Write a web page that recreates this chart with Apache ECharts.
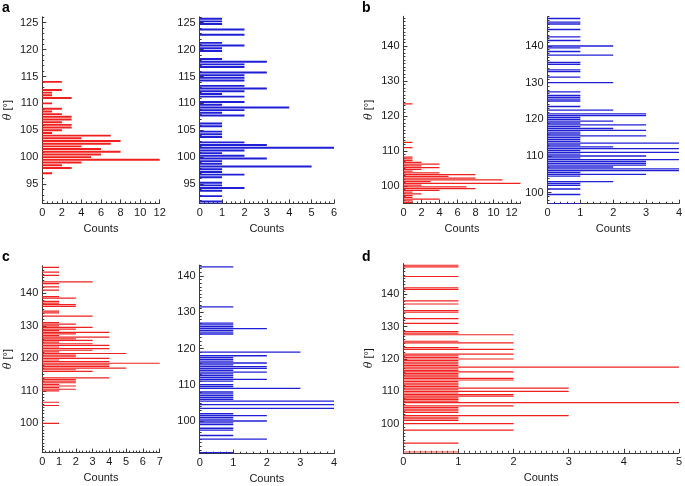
<!DOCTYPE html>
<html>
<head>
<meta charset="utf-8">
<script src="https://cdn.jsdelivr.net/npm/echarts@6/dist/echarts.min.js"></script>
<style>
  html, body { margin: 0; padding: 0; background: #fff; }
  #main { width: 685px; height: 486px; }
</style>
</head>
<body>
<div id="main"></div>
<script>
/* histogram bins: theta centre (deg) and counts */
var aRedTheta = [114.0, 112.5, 112.0, 111.5, 111.0, 110.0, 109.0, 108.5, 108.0, 107.5, 107.0, 106.5, 106.0, 105.5, 105.0,
  104.5, 104.0, 103.5, 103.0, 102.5, 102.0, 101.5, 101.0, 100.5, 100.0, 99.5, 99.0, 98.5, 98.0, 97.0];
var aRedCounts = [2, 2, 1, 1, 3, 1, 2, 1, 2, 3, 3, 2, 3, 3, 2,
  1, 7, 4, 8, 7, 4, 6, 8, 6, 5, 12, 4, 2, 3, 1];

var aBlueTheta = [125.75, 125.25, 124.75, 123.75, 122.75, 121.25, 120.75, 120.25, 119.75, 118.25, 117.75, 117.25, 116.75,
  115.75, 115.25, 114.75, 114.25, 113.25, 112.75, 112.25, 111.75, 111.25, 110.25, 109.75, 109.25, 108.75, 108.25,
  107.75, 106.25, 105.75, 104.75, 104.25, 103.75, 102.75, 102.25, 101.75, 101.25, 100.75, 100.25, 99.75, 99.25,
  98.75, 98.25, 97.75, 97.25, 96.75, 96.25, 95.25, 94.75, 94.25, 93.75, 92.75, 91.75, 91.25];
var aBlueCounts = [1, 1, 1, 2, 2, 1, 2, 1, 1, 1, 3, 2, 2,
  3, 2, 2, 2, 2, 3, 2, 1, 2, 2, 1, 4, 2, 1,
  2, 1, 1, 1, 1, 1, 2, 3, 6, 2, 1, 2, 3, 1,
  1, 5, 1, 1, 2, 1, 1, 1, 2, 1, 1, 1, 1];

var bRedTheta = [123.5, 112.5, 111.0, 108.25, 107.75, 107.25, 106.75, 106.25, 105.75, 105.25, 104.75, 104.25, 103.75,
  103.25, 102.75, 102.25, 101.75, 101.25, 100.75, 100.25, 99.75, 99.25, 98.75, 98.25, 97.75, 97.25, 96.75, 96.25,
  95.75, 95.25];
var bRedCounts = [1, 1, 1, 1, 1, 1, 2, 4, 2, 4, 2, 1, 4,
  8, 5, 8, 11, 3, 13, 2, 7, 8, 4, 1, 2, 1, 1, 4,
  1, 1];

var bBlueTheta = [147.5, 146.5, 146.0, 144.5, 142.5, 141.5, 140.0, 139.5, 138.5, 137.5, 135.5, 135.0, 133.5, 133.0,
  131.5, 130.0, 127.5, 126.5, 126.0, 125.5, 125.0, 123.5, 122.5, 121.5, 121.0, 120.5, 120.0, 119.5, 119.0, 118.5,
  118.0, 117.5, 117.0, 116.5, 116.0, 115.5, 115.0, 114.5, 114.0, 113.5, 113.0, 112.5, 112.0, 111.5, 111.0, 110.5,
  110.0, 109.5, 109.0, 108.5, 108.0, 107.5, 107.0, 106.5, 106.0, 105.5, 105.0, 104.5, 103.0, 102.5, 102.0, 101.0,
  99.5, 97.0];
var bBlueCounts = [1, 1, 1, 1, 1, 1, 2, 1, 1, 2, 1, 1, 1, 1,
  1, 2, 1, 1, 1, 1, 1, 1, 2, 3, 3, 1, 1, 2, 1, 3,
  1, 2, 3, 1, 1, 3, 1, 1, 1, 4, 1, 2, 4, 1, 4, 1,
  3, 1, 4, 3, 3, 3, 2, 4, 4, 1, 3, 1, 2, 1, 1, 1,
  1, 1];

var cRedTheta = [148.0, 146.5, 145.5, 143.5, 143.0, 142.0, 141.0, 139.0, 138.5, 137.5, 137.0, 136.5, 136.0, 134.5,
  134.0, 133.0, 131.0, 130.5, 130.0, 129.5, 129.0, 128.5, 128.0, 127.5, 127.0, 126.5, 126.0, 125.5, 125.0, 124.5,
  124.0, 123.5, 123.0, 122.5, 122.0, 121.5, 121.0, 120.5, 120.0, 119.5, 119.0, 118.5, 118.0, 117.5, 117.0, 116.5,
  116.0, 114.0, 113.5, 113.0, 112.5, 112.0, 111.5, 111.0, 110.5, 110.0, 106.5, 105.5, 100.0];
var cRedCounts = [1, 1, 1, 3, 1, 1, 1, 1, 2, 1, 1, 2, 2, 1,
  1, 3, 1, 2, 1, 3, 2, 1, 4, 2, 1, 4, 2, 3, 1, 3,
  4, 1, 4, 3, 1, 5, 2, 2, 4, 1, 4, 7, 4, 4, 5, 2,
  3, 4, 2, 2, 2, 1, 2, 1, 2, 1, 1, 1, 1];

var cBlueTheta = [142.5, 131.5, 127.0, 126.5, 126.0, 125.5, 125.0, 124.5, 124.0, 119.0, 118.0, 117.5, 117.0, 116.5,
  116.0, 115.5, 115.0, 114.5, 114.0, 113.5, 113.0, 112.5, 112.0, 111.5, 111.0, 110.0, 109.5, 109.0, 108.0, 107.5,
  107.0, 106.5, 106.0, 105.5, 104.5, 103.5, 102.0, 101.5, 101.0, 100.5, 100.0, 99.5, 99.0, 98.0, 97.5, 96.0,
  95.0, 91.25];
var cBlueCounts = [1, 1, 1, 1, 1, 2, 1, 1, 1, 3, 2, 1, 1, 1,
  2, 1, 2, 2, 1, 2, 1, 1, 1, 2, 1, 1, 1, 3, 1, 1,
  1, 1, 1, 4, 4, 4, 1, 2, 1, 1, 2, 1, 1, 1, 1, 1,
  2, 1];

var dTheta = [149.0, 148.5, 145.5, 142.0, 141.5, 138.0, 137.0, 135.0, 134.5, 132.5, 131.0, 128.5, 128.0, 127.5,
  125.5, 125.0, 123.5, 123.0, 121.5, 121.0, 120.5, 120.0, 119.5, 119.0, 118.5, 118.0, 117.5, 117.0, 116.5, 116.0,
  115.5, 115.0, 114.5, 114.0, 113.5, 113.0, 112.5, 112.0, 111.5, 111.0, 110.5, 110.0, 109.5, 109.0, 108.5, 108.0,
  107.5, 107.0, 106.5, 105.5, 105.0, 104.5, 104.0, 103.5, 102.5, 102.0, 101.5, 101.0, 100.0, 98.0, 94.0, 91.25];
var dCounts = [1, 1, 1, 1, 1, 1, 1, 1, 1, 1, 1, 1, 1, 2,
  1, 2, 1, 2, 2, 1, 1, 2, 1, 1, 1, 1, 5, 1, 1, 2,
  1, 1, 1, 2, 2, 1, 1, 1, 1, 3, 1, 3, 1, 2, 2, 1,
  1, 1, 5, 2, 1, 1, 1, 1, 3, 1, 1, 1, 2, 2, 1, 1];

/* tick labels */
var aYLabels = [95, 100, 105, 110, 115, 120, 125];
var bcdYLabels = [100, 110, 120, 130, 140];
var xLabels12 = [0, 2, 4, 6, 8, 10, 12];
var xLabels7 = [0, 1, 2, 3, 4, 5, 6, 7];
var xLabels6 = [0, 1, 2, 3, 4, 5, 6];
var xLabels5 = [0, 1, 2, 3, 4, 5];
var xLabels4 = [0, 1, 2, 3, 4];

var BIN_WIDTH = 0.5;
var BAR_FILL = 0.72;
var RED = '#f0201e';
var BLUE = '#1f1fd6';
var FONT = '"Liberation Sans", Arial, sans-serif';
var AXIS_COLOR = '#3a3a3a';

function steps(from, to, step) {
  var out = [];
  for (var v = from; v <= to + 1e-9; v += step) out.push(Math.round(v * 1000) / 1000);
  return out;
}

var panels = [
  { theta: aRedTheta, counts: aRedCounts, color: RED, left: 42.3, width: 117.4, top: 16.8, height: 186.6,
    xMax: 12, xLabels: xLabels12, xMinor: 0.5, yMin: 91.4, yMax: 126.1, yLabels: aYLabels, yName: true },
  { theta: aBlueTheta, counts: aBlueCounts, color: BLUE, left: 199.7, width: 134.3, top: 16.8, height: 186.6,
    xMax: 6, xLabels: xLabels6, xMinor: 0.2, yMin: 91.4, yMax: 126.1, yLabels: aYLabels, yName: false },
  { theta: bRedTheta, counts: bRedCounts, color: RED, left: 403.5, width: 117, top: 16.3, height: 187.2,
    xMax: 13, xLabels: xLabels12, xMinor: 0.5, yMin: 95, yMax: 148.5, yLabels: bcdYLabels, yName: true },
  { theta: bBlueTheta, counts: bBlueCounts, color: BLUE, left: 547.5, width: 134.2, top: 16.7, height: 187,
    xMax: 4, xLabels: xLabels4, xMinor: 0.2, yMin: 97, yMax: 148, yLabels: bcdYLabels, yName: false },
  { theta: cRedTheta, counts: cRedCounts, color: RED, left: 42.3, width: 117.4, top: 265.7, height: 186.9,
    xMax: 7, xLabels: xLabels7, xMinor: 0.2, yMin: 91, yMax: 148.5, yLabels: bcdYLabels, yName: true },
  { theta: cBlueTheta, counts: cBlueCounts, color: BLUE, left: 199.7, width: 134.3, top: 265.1, height: 188.5,
    xMax: 4, xLabels: xLabels4, xMinor: 0.2, yMin: 91, yMax: 143, yLabels: bcdYLabels, yName: false },
  { theta: dTheta, counts: dCounts, color: RED, left: 403.3, width: 277.7, top: 263.6, height: 189.2,
    xMax: 5, xLabels: xLabels5, xMinor: 0.1, yMin: 91, yMax: 149.5, yLabels: bcdYLabels, yName: true }
];

function barRenderer(color) {
  return function (params, api) {
    var count = api.value(0);
    var theta = api.value(1);
    var p0 = api.coord([0, theta + BIN_WIDTH / 2]);
    var p1 = api.coord([count, theta - BIN_WIDTH / 2]);
    var h = p1[1] - p0[1];
    var pad = h * (1 - BAR_FILL) / 2;
    return {
      type: 'rect',
      shape: { x: p0[0], y: p0[1] + pad, width: p1[0] - p0[0], height: h - 2 * pad },
      style: { fill: color }
    };
  };
}

var grids = [], xAxes = [], yAxes = [], series = [];

panels.forEach(function (p, i) {
  grids.push({ left: p.left, top: p.top, width: p.width, height: p.height });

  // major axis (line, labels, long ticks)
  xAxes.push({
    gridIndex: i, type: 'value', position: 'bottom', min: 0, max: p.xMax,
    axisLine: { show: true, lineStyle: { color: AXIS_COLOR, width: 1 } },
    axisTick: { show: true, inside: true, length: 4, customValues: p.xLabels, lineStyle: { color: AXIS_COLOR } },
    axisLabel: { customValues: p.xLabels, margin: 4, fontSize: 11, color: '#1a1a1a', fontFamily: FONT },
    splitLine: { show: false },
    name: 'Counts', nameLocation: 'middle', nameGap: 20, nameMoveOverlap: false,
    nameTextStyle: { fontSize: 11, color: '#1a1a1a', fontFamily: FONT }
  });
  // minor ticks only
  xAxes.push({
    gridIndex: i, type: 'value', position: 'bottom', min: 0, max: p.xMax,
    axisLine: { show: false },
    axisTick: { show: true, inside: true, length: 2, customValues: steps(0, p.xMax, p.xMinor),
      lineStyle: { color: AXIS_COLOR } },
    axisLabel: { show: false },
    splitLine: { show: false }
  });

  yAxes.push({
    gridIndex: i, type: 'value', position: 'left', min: p.yMin, max: p.yMax,
    axisLine: { show: true, lineStyle: { color: AXIS_COLOR, width: 1 } },
    axisTick: { show: true, inside: true, length: 4, customValues: p.yLabels, lineStyle: { color: AXIS_COLOR } },
    axisLabel: { customValues: p.yLabels, margin: 4, fontSize: 11, color: '#1a1a1a', fontFamily: FONT },
    splitLine: { show: false },
    name: p.yName ? '{t|θ} [°]' : '', nameLocation: 'middle', nameGap: 29, nameRotate: 90,
    nameMoveOverlap: false,
    nameTextStyle: {
      fontSize: 11, color: '#1a1a1a', fontFamily: FONT,
      rich: { t: { fontSize: 11, fontStyle: 'italic', fontFamily: '"DejaVu Serif", serif', color: '#1a1a1a' } }
    }
  });
  yAxes.push({
    gridIndex: i, type: 'value', position: 'left', min: p.yMin, max: p.yMax,
    axisLine: { show: false },
    axisTick: { show: true, inside: true, length: 2, customValues: steps(Math.ceil(p.yMin), p.yMax, 1),
      lineStyle: { color: AXIS_COLOR } },
    axisLabel: { show: false },
    splitLine: { show: false }
  });

  series.push({
    type: 'custom',
    xAxisIndex: 2 * i,
    yAxisIndex: 2 * i,
    clip: true,
    silent: true,
    encode: { x: 0, y: 1 },
    renderItem: barRenderer(p.color),
    data: p.counts.map(function (c, j) { return [c, p.theta[j]]; })
  });
});

var panelLetters = [
  { text: 'a', x: 2, y: 8.6 },
  { text: 'b', x: 362, y: 8.6 },
  { text: 'c', x: 2, y: 257 },
  { text: 'd', x: 362, y: 257.5 }
];

var chartDom = document.getElementById('main');
var myChart = echarts.init(chartDom, null, { renderer: 'canvas' });

var option = {
  backgroundColor: '#ffffff',
  animation: false,
  grid: grids,
  xAxis: xAxes,
  yAxis: yAxes,
  series: series,
  graphic: panelLetters.map(function (l) {
    return {
      type: 'text', x: l.x, y: l.y,
      style: { text: l.text, font: 'bold 14px ' + FONT, fill: '#000', verticalAlign: 'middle' }
    };
  })
};

myChart.setOption(option);
</script>
</body>
</html>
